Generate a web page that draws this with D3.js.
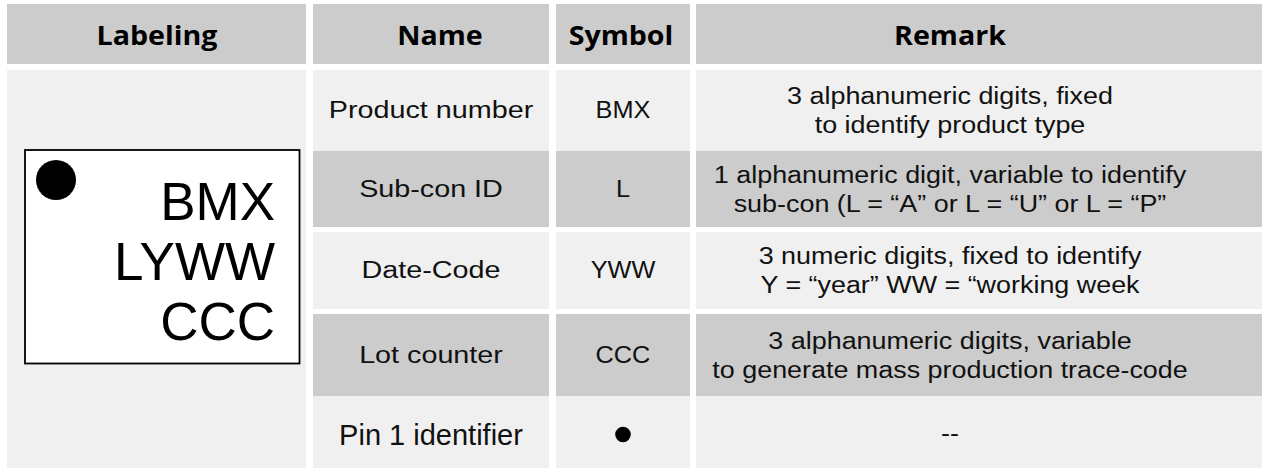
<!DOCTYPE html>
<html><head><meta charset="utf-8">
<script src="https://cdn.jsdelivr.net/npm/d3@7"></script>
<style>body{margin:0;background:#fff}svg{display:block}</style>
</head><body>
<script>
const headers = ["Labeling", "Name", "Symbol", "Remark"];
const names = ["Product number", "Sub-con ID", "Date-Code", "Lot counter", "Pin 1 identifier"];
const symbols = ["BMX", "L", "YWW", "CCC", "●"];
const remarks = [
  ["3 alphanumeric digits, fixed", "to identify product type"],
  ["1 alphanumeric digit, variable to identify", "sub-con (L = “A” or L = “U” or L = “P”"],
  ["3 numeric digits, fixed to identify", "Y = “year” WW = “working week"],
  ["3 alphanumeric digits, variable", "to generate mass production trace-code"],
  ["--"]
];
const rowShade = ["light", "dark", "light", "dark", "light"];
const markLines = ["BMX", "LYWW", "CCC"];

const W = 1262, H = 468;
const svg = d3.select("body").append("svg").attr("width", W).attr("height", H);

const colEdges = [[7, 306], [313, 549], [556, 690], [696, 1262]];
const headCenters = [157, 440, 621, 950];
const bodyCenters = [157, 431, 623, 950];
const headerY = [4, 64];
const rowEdges = [[70, 151], [151, 227], [232, 309], [314, 396], [396, 468]];
const fill = {light: "#f0f0f0", dark: "#cccccc"};
const font = "'Liberation Sans', Arial, sans-serif";

function stext(sel, x, y, sx, sy) {
  return sel.append("text").attr("transform", `translate(${x},${y}) scale(${sx},${sy})`)
    .attr("text-anchor", "middle");
}

// header
svg.selectAll("rect.h").data(headers).join("rect").attr("class", "h")
  .attr("x", (d, i) => colEdges[i][0]).attr("y", headerY[0])
  .attr("width", (d, i) => colEdges[i][1] - colEdges[i][0]).attr("height", headerY[1] - headerY[0])
  .attr("fill", "#cccccc");
svg.selectAll("text.h").data(headers).join("text").attr("class", "h")
  .attr("transform", (d, i) => `translate(${headCenters[i]},45) scale(1.1,1)`)
  .attr("text-anchor", "middle")
  .attr("font-family", "'Open Sans', sans-serif").attr("font-weight", 700)
  .attr("font-size", 26).attr("fill", "#000")
  .text(d => d);

// labeling cell
svg.append("rect").attr("x", colEdges[0][0]).attr("y", rowEdges[0][0])
  .attr("width", colEdges[0][1] - colEdges[0][0]).attr("height", H - rowEdges[0][0])
  .attr("fill", "#f0f0f0");
svg.append("rect").attr("x", 25).attr("y", 150).attr("width", 274.5).attr("height", 213.5)
  .attr("fill", "#fff").attr("stroke", "#000").attr("stroke-width", 1.8);
svg.append("circle").attr("cx", 56).attr("cy", 180).attr("r", 20).attr("fill", "#000");
svg.selectAll("text.mark").data(markLines).join("text").attr("class", "mark")
  .attr("x", 275).attr("y", (d, i) => 220 + i * 60)
  .attr("text-anchor", "end")
  .attr("font-family", font)
  .attr("font-size", 53).attr("fill", "#000")
  .text(d => d);

// body rows
const rows = names.map((n, i) => ({name: n, symbol: symbols[i], remark: remarks[i], shade: rowShade[i], y0: rowEdges[i][0], y1: rowEdges[i][1], last: i === names.length - 1}));
const rg = svg.selectAll("g.row").data(rows).join("g").attr("class", "row");
[1, 2, 3].forEach(c => {
  rg.append("rect").attr("x", colEdges[c][0]).attr("y", d => d.y0)
    .attr("width", colEdges[c][1] - colEdges[c][0]).attr("height", d => d.y1 - d.y0)
    .attr("fill", d => fill[d.shade]);
});
rg.each(function(d) {
  const g = d3.select(this);
  const mid = (d.y0 + d.y1) / 2;
  // name
  if (d.last) {
    stext(g, bodyCenters[1], 445, 1, 1).attr("font-family", font).attr("font-size", 29).attr("fill", "#111").text(d.name);
  } else {
    stext(g, bodyCenters[1], mid + 7.5, 1.25, 1).attr("font-family", font).attr("font-size", 23).attr("fill", "#111").text(d.name);
  }
  // symbol
  if (d.symbol === "●") {
    g.append("circle").attr("cx", bodyCenters[2]).attr("cy", 434.5).attr("r", 7.8).attr("fill", "#000");
  } else {
    stext(g, bodyCenters[2], mid + 7.5, 1.1, 1).attr("font-family", font).attr("font-size", 23).attr("fill", "#111").text(d.symbol);
  }
  // remark
  const n = d.remark.length, lh = 29;
  d.remark.forEach((t, j) => {
    const y = n === 1 ? 441 : mid + 8 + (j - (n - 1) / 2) * lh;
    stext(g, bodyCenters[3], y, 1.17, 1).attr("font-family", font).attr("font-size", 23).attr("fill", "#111").text(t);
  });
});
</script>
</body></html>
